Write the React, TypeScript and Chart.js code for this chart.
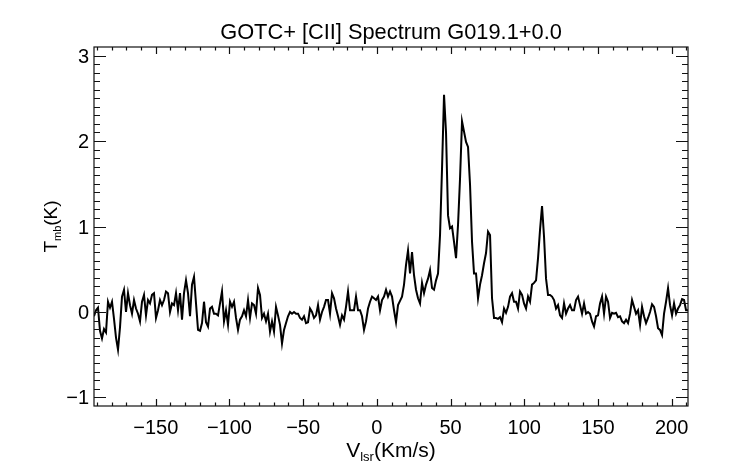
import { useEffect, useRef } from "react";
import { Chart, registerables } from "chart.js";

Chart.register(...registerables);

const TITLE = "GOTC+ [CII] Spectrum G019.1+0.0";
const X_LABEL = ["V", "lsr", "(Km/s)"];
const Y_LABEL = ["T", "mb", "(K)"];

const X_MIN = -191.9;
const X_MAX = 211.1;
const Y_MIN = -1.1;
const Y_MAX = 3.1;
const X_TICKS = [-150, -100, -50, 0, 50, 100, 150, 200];
const Y_TICKS = [-1, 0, 1, 2, 3];

// spectrometer channel grid (km/s)
const V_CHANNEL_START = -191.9;
const V_CHANNEL_WIDTH = 1.357;

// Tmb (K) read per channel, in velocity order
const TMB_A = [
  -0.05, 0.02, 0.05, -0.22, -0.31, -0.2, -0.24, 0.12, 0.05, 0.12, -0.08, -0.3, -0.44, -0.18, 0.18, 0.26,
  0.0, 0.22, 0.08, -0.02, 0.14, 0.04, -0.02, -0.11, 0.12, 0.2, -0.04, 0.14, 0.1, 0.2, 0.22, -0.07,
  0.02, 0.14, 0.08, 0.14, 0.24, 0.22, 0.0, 0.1, 0.08, 0.22, 0.02, 0.22, -0.09, 0.22, 0.37, 0.22,
  -0.05, 0.32, 0.41, 0.1, -0.21, -0.22, -0.13,
];
const TMB_B = [
  0.12, -0.12, -0.17, 0.04, 0.06, -0.02, -0.02, -0.04, 0.1, 0.24, -0.11, 0.02, -0.15, 0.12, 0.06, 0.12,
  -0.07, -0.21, -0.09, -0.05, 0.02, -0.05, 0.14, -0.07, 0.1, 0.08, -0.02, 0.28, 0.2, -0.07, -0.02, -0.11,
  -0.02, -0.23, -0.11, -0.23, 0.06, -0.04, -0.15, -0.37, -0.21, -0.13, -0.05, 0.0, -0.02, 0.0, -0.02, -0.02,
  -0.07, -0.09, -0.05, -0.13,
];
const TMB_C = [
  -0.12, 0.04, 0.0, -0.07, -0.04, 0.08, -0.09, 0.0, 0.06, 0.14, 0.14, -0.02, 0.22, 0.16, 0.04, -0.05,
  -0.15, -0.04, -0.09, 0.06, 0.24, 0.02, 0.02, 0.02, 0.18, 0.02, 0.02, -0.05, -0.21, -0.11, 0.04, 0.12,
  0.18, 0.16, 0.14, 0.18, 0.02, 0.14, 0.18, 0.26, 0.18, 0.24, 0.18, 0.02, -0.12, 0.08, 0.13, 0.18,
];
const TMB_D = [
  0.32, 0.55, 0.72, 0.45, 0.7, 0.43, 0.26, 0.16, 0.1, 0.34, 0.22, 0.32, 0.39, 0.49, 0.28, 0.26,
  0.37, 0.45, 0.9, 1.68, 2.54, 2.1, 1.13, 0.98, 1.0, 0.82, 0.63, 1.02, 1.56, 2.23, 2.11, 1.99,
  1.93, 1.49, 0.82, 0.45, 0.45, 0.16, 0.32, 0.43, 0.57, 0.69, 0.94, 0.9, 0.16, -0.07, -0.07, -0.08,
  -0.06, -0.12, 0.04, -0.01, 0.06, 0.18,
];
const TMB_E = [
  0.22, 0.12, 0.12, 0.04, 0.24, 0.2, 0.1, 0.04, 0.18, 0.12, 0.32, 0.34, 0.37, 0.63, 0.96, 1.24,
  0.88, 0.39, 0.2, 0.2, 0.18, 0.14, 0.04, 0.08, -0.04, -0.07, 0.1, -0.02, 0.04, 0.08, 0.02, 0.02,
  0.14, 0.18, 0.08, -0.02, 0.1, -0.02, 0.0, -0.02,
];
const TMB_F = [
  -0.11, -0.17, -0.05, -0.04, 0.1, 0.18, -0.02, 0.18, 0.12, -0.07, -0.01, -0.02, -0.01, -0.06, -0.05, -0.11,
  -0.13, -0.09, -0.13, -0.02, 0.14, 0.06, -0.02, 0.02, -0.15, 0.06, -0.05, -0.13, -0.07, 0.0, 0.09, 0.06,
  -0.05, -0.19, -0.21, -0.27, -0.02, 0.12, 0.28, 0.08, -0.04, 0.1, -0.02, 0.04, 0.08, 0.15, 0.14, 0.02,
  0.02,
];

const TMB = [...TMB_A, ...TMB_B, ...TMB_C, ...TMB_D, ...TMB_E, ...TMB_F];

const FONT = '"Liberation Sans", Arial, Helvetica, sans-serif';
const fmt = (v: number) => (v < 0 ? "\u2212" + Math.abs(v) : String(v));

const framePlugin = {
  id: "idlFrame",
  afterDraw(chart: any) {
    const { ctx, chartArea: a, scales } = chart;
    const xs = scales.x;
    const ys = scales.y;
    ctx.save();
    ctx.strokeStyle = "#111";
    ctx.lineWidth = 1.2;
    ctx.strokeRect(a.left, a.top, a.right - a.left, a.bottom - a.top);

    ctx.beginPath();
    for (let v = Math.ceil(X_MIN / 10) * 10; v <= X_MAX; v += 10) {
      const px = Math.round(xs.getPixelForValue(v)) + 0.5;
      const major = X_TICKS.includes(v);
      const len = major ? 7 : 3.5;
      ctx.moveTo(px, a.bottom);
      ctx.lineTo(px, a.bottom - len);
      ctx.moveTo(px, a.top);
      ctx.lineTo(px, a.top + len);
    }
    for (let k = Math.ceil(Y_MIN * 10 + 0.001); k <= Math.floor(Y_MAX * 10 - 0.001); k++) {
      const v = k / 10;
      const py = Math.round(ys.getPixelForValue(v)) + 0.5;
      const major = k % 10 === 0;
      const len = major ? 12 : 6;
      ctx.moveTo(a.left, py);
      ctx.lineTo(a.left + len, py);
      ctx.moveTo(a.right, py);
      ctx.lineTo(a.right - len, py);
    }
    ctx.stroke();

    ctx.fillStyle = "#000";
    ctx.font = `20px ${FONT}`;
    ctx.textBaseline = "alphabetic";
    ctx.textAlign = "center";
    for (const v of X_TICKS) {
      ctx.fillText(fmt(v), xs.getPixelForValue(v), a.bottom + 28);
    }
    ctx.textAlign = "right";
    for (const v of Y_TICKS) {
      ctx.fillText(fmt(v), a.left - 5, ys.getPixelForValue(v) + 7);
    }

    ctx.textAlign = "center";
    ctx.font = `21.8px ${FONT}`;
    ctx.fillText(TITLE, (a.left + a.right) / 2, 39);

    const drawSub = (parts: string[], cx: number, base: number, big: number, small: number) => {
      ctx.textAlign = "left";
      ctx.font = `${big}px ${FONT}`;
      const w0 = ctx.measureText(parts[0]).width;
      const w2 = ctx.measureText(parts[2]).width;
      ctx.font = `${small}px ${FONT}`;
      const w1 = ctx.measureText(parts[1]).width;
      let x = cx - (w0 + w1 + w2) / 2;
      ctx.font = `${big}px ${FONT}`;
      ctx.fillText(parts[0], x, base);
      x += w0;
      ctx.font = `${small}px ${FONT}`;
      ctx.fillText(parts[1], x, base + 4);
      x += w1;
      ctx.font = `${big}px ${FONT}`;
      ctx.fillText(parts[2], x, base);
    };

    drawSub(X_LABEL, (a.left + a.right) / 2, 457, 21, 13);

    ctx.save();
    ctx.translate(57, (a.top + a.bottom) / 2);
    ctx.rotate(-Math.PI / 2);
    drawSub(Y_LABEL, 0, 0, 19, 11);
    ctx.restore();

    ctx.restore();
  },
};

export default function App() {
  const ref = useRef<HTMLCanvasElement | null>(null);

  useEffect(() => {
    if (!ref.current) return;
    const points = TMB.map((t, i) => ({ x: V_CHANNEL_START + i * V_CHANNEL_WIDTH, y: t }));
    const chart = new Chart(ref.current, {
      type: "line",
      data: {
        datasets: [
          {
            data: points,
            borderColor: "#000",
            borderWidth: 2,
            borderJoinStyle: "miter",
            pointRadius: 0,
            tension: 0,
            fill: false,
          },
        ],
      },
      options: {
        animation: false,
        responsive: false,
        layout: { padding: { left: 94, top: 47, right: 54, bottom: 58 } },
        scales: {
          x: { type: "linear", min: X_MIN, max: X_MAX, display: false },
          y: { type: "linear", min: Y_MIN, max: Y_MAX, display: false },
        },
        plugins: { legend: { display: false }, tooltip: { enabled: false }, title: { display: false } },
      },
      plugins: [framePlugin],
    });
    return () => chart.destroy();
  }, []);

  return (
    <div style={{ position: "fixed", left: 0, top: 0, width: 742, height: 464, background: "#fff" }}>
      <canvas ref={ref} width={742} height={464} style={{ width: 742, height: 464, display: "block" }} />
    </div>
  );
}
